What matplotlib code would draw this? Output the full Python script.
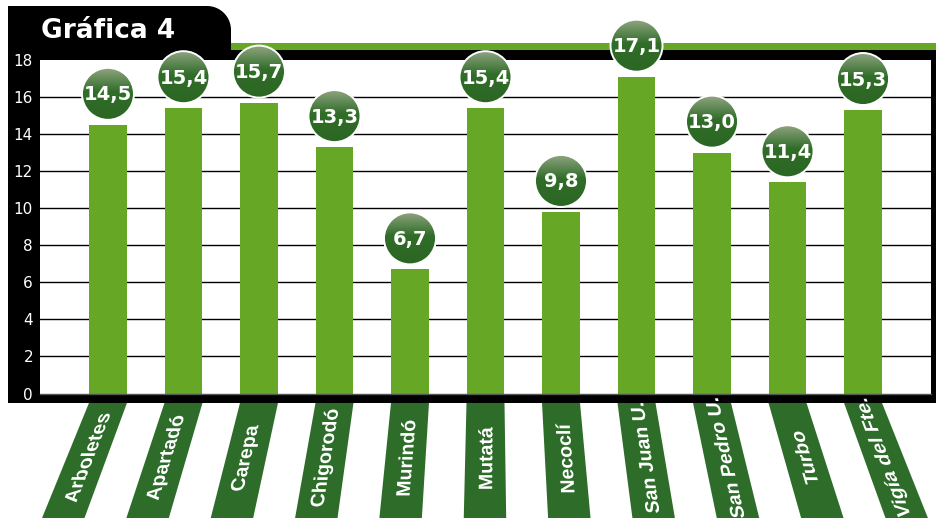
import numpy as np
import matplotlib
matplotlib.use("Agg")
import matplotlib.pyplot as plt
from matplotlib.patches import Polygon, Rectangle, Circle, PathPatch
from matplotlib.textpath import TextPath
from matplotlib.font_manager import FontProperties
from matplotlib.transforms import Affine2D, IdentityTransform

# Data
municipios = ["Arboletes", "Apartadó", "Carepa", "Chigorodó", "Murindó", "Mutatá",
              "Necoclí", "San Juan U.", "San Pedro U.", "Turbo", "Vigía del Fte."]
valores = [14.5, 15.4, 15.7, 13.3, 6.7, 15.4, 9.8, 17.1, 13.0, 11.4, 15.3]
y_ticks = [0, 2, 4, 6, 8, 10, 12, 14, 16, 18]
titulo = "Gráfica 4"

W, H = 937, 530
BAR_GREEN = "#66a826"
DARK_GREEN = "#2d6d29"

fig = plt.figure(figsize=(W / 100, H / 100), dpi=100)
fig.patch.set_facecolor("white")

# Background layer in pixel coordinates (y grows downward)
bg = fig.add_axes([0, 0, 1, 1], zorder=0)
bg.set_xlim(0, W)
bg.set_ylim(H, 0)
bg.axis("off")

# Title tab with rounded top-right corner
r = 24
cx, cy = 231 - r, 6 + r
ang = np.linspace(-np.pi / 2, 0, 30)
arc = np.column_stack([cx + r * np.cos(ang), cy + r * np.sin(ang)])
tab_pts = np.vstack([[8, 6], arc, [231, 52], [8, 52]])
bg.add_patch(Polygon(tab_pts, closed=True, facecolor="black", edgecolor="none"))
bg.add_patch(Rectangle((231, 43), W - 231, 7, facecolor=BAR_GREEN, edgecolor="none"))
bg.add_patch(Rectangle((8, 50), W - 8, 403 - 50, facecolor="black", edgecolor="none"))
bg.text(41, 31, titulo, color="white", fontsize=19, fontweight="bold",
        family="DejaVu Sans", ha="left", va="center")

# Main plotting area
L, R, T, B = 40, 931, 60, 393.5
ax = fig.add_axes([L / W, (H - B) / H, (R - L) / W, (B - T) / H], zorder=1)
ax.set_facecolor("white")
x = np.arange(len(municipios))
ax.bar(x, valores, width=0.5, color=BAR_GREEN, zorder=2)
ax.set_xlim(-0.9, len(municipios) - 0.1)
ax.set_ylim(0, 18)
for yv in y_ticks[1:-1]:
    ax.axhline(yv, color="black", lw=1.0, zorder=1)
ax.set_yticks(y_ticks)
ax.set_yticklabels([str(v) for v in y_ticks], color="white", fontsize=11)
ax.tick_params(axis="y", length=0, pad=5)
ax.set_xticks([])
for s in ["top", "right", "left"]:
    ax.spines[s].set_visible(False)
ax.spines["bottom"].set_color("#555555")
ax.spines["bottom"].set_linewidth(1.0)

# Overlay layer for value bubbles, drawn above the frame
ov = fig.add_axes([0, 0, 1, 1], zorder=3)
ov.set_facecolor("none")
ov.axis("off")


def to_px(xd, yd):
    dx, dy = ax.transData.transform((xd, yd))
    return dx, H - dy


# Vertical gradient for the bubbles
top_c = np.array([0.56, 0.64, 0.50])
mid_c = np.array([0.19, 0.43, 0.16])
bot_c = np.array([0.17, 0.40, 0.14])
t = np.linspace(0, 1, 64)[:, None]
grad = np.where(t < 0.45, top_c + (mid_c - top_c) * (t / 0.45),
                mid_c + (bot_c - mid_c) * ((t - 0.45) / 0.55))
grad_img = np.repeat(grad[:, None, :], 4, axis=1)

rad = 26
for i, v in enumerate(valores):
    px, py = to_px(i, v)
    ccy = py - 31
    ov.add_patch(Circle((px, ccy), rad, facecolor=DARK_GREEN, edgecolor="none", zorder=4))
    im = ov.imshow(grad_img, extent=(px - rad, px + rad, ccy + rad, ccy - rad),
                   aspect="auto", zorder=4.5, interpolation="bilinear")
    im.set_clip_path(Circle((px, ccy), rad, transform=ov.transData))
    ov.add_patch(Circle((px, ccy), rad, facecolor="none", edgecolor="white", lw=1.4, zorder=5))
    ov.text(px, ccy + 1, f"{v:.1f}".replace(".", ","), color="white", fontsize=14,
            fontweight="bold", family="DejaVu Sans", ha="center", va="center", zorder=6)

# Slanted category labels fanning out below the frame
x0, k = 490.0, 1.117
y_top, y_bot = 403, 518
half = 19
label_font = FontProperties(family="Liberation Sans", weight="bold")
for i, name in enumerate(municipios):
    px, _ = to_px(i, 0)
    tl, tr = px - half, px + half
    bl, br = x0 + (tl - x0) * k, x0 + (tr - x0) * k
    bg.add_patch(Polygon([[tl, y_top], [tr, y_top], [br, y_bot], [bl, y_bot]],
                         closed=True, facecolor=DARK_GREEN, edgecolor="none"))
    bc = (bl + br) / 2
    # text rotated to read upward, then sheared to follow the strip
    shear = (px - bc) / (y_bot - y_top)
    ty = 458
    frac = (ty - y_top) / (y_bot - y_top)
    tx = px + (bc - px) * frac
    tp = TextPath((0, 0), name, size=19.5, prop=label_font)
    ext = tp.get_extents()
    tf = (Affine2D()
          .translate(-(ext.x0 + ext.x1) / 2, -(ext.y0 + ext.y1) / 2)
          .rotate_deg(90)
          .skew(np.arctan(shear), 0)
          .translate(tx, H - ty))
    bg.add_patch(PathPatch(tf.transform_path(tp), facecolor="white", edgecolor="none",
                           transform=IdentityTransform(), zorder=3))

ov.set_xlim(0, W)
ov.set_ylim(H, 0)

fig.savefig("out.png", dpi=100)
